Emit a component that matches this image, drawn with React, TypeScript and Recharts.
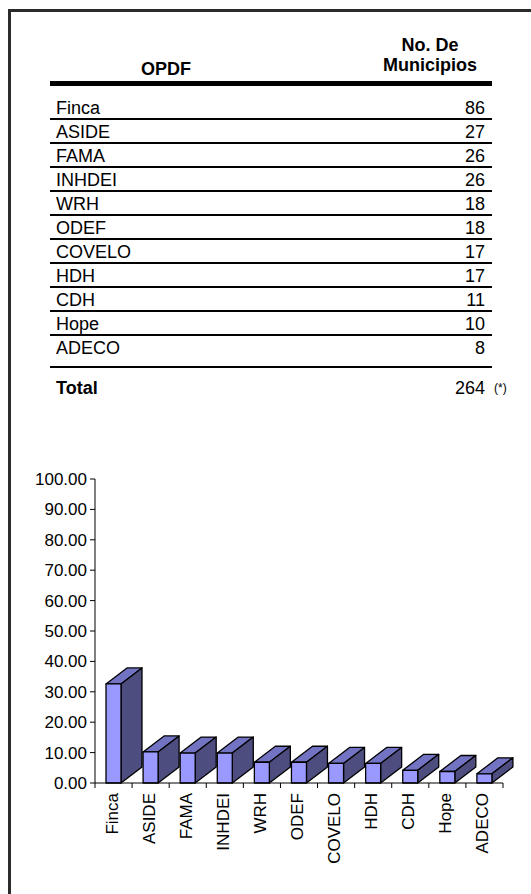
import React from 'react';
import { BarChart, Bar, XAxis, YAxis } from 'recharts';

// OPDF names and counts (table) + percent share (chart)
const categories = ['Finca', 'ASIDE', 'FAMA', 'INHDEI', 'WRH', 'ODEF', 'COVELO', 'HDH', 'CDH', 'Hope', 'ADECO'];
const municipios = [86, 27, 26, 26, 18, 18, 17, 17, 11, 10, 8];
const percentages = [32.58, 10.23, 9.85, 9.85, 6.82, 6.82, 6.44, 6.44, 4.17, 3.79, 3.03];
const totalMunicipios = 264;
const yTicks = [0, 10, 20, 30, 40, 50, 60, 70, 80, 90, 100];

const FONT = '"Liberation Sans", Arial, sans-serif';
const PLOT_LEFT = 95;
const PLOT_RIGHT = 503;
const BAND = (PLOT_RIGHT - PLOT_LEFT) / categories.length;
const DX = 21;
const DY = 16;

const chartData = categories.map((name, i) => ({ name, pct: percentages[i] }));

const Box3D = (props: any) => {
  const { x, y, width, height } = props;
  const x2 = x + width;
  const yb = y + height;
  return (
    <g stroke="#000" strokeWidth={1.3} strokeLinejoin="round">
      <polygon points={`${x},${y} ${x + DX},${y - DY} ${x2 + DX},${y - DY} ${x2},${y}`} fill="#7373c4" />
      <polygon points={`${x2},${y} ${x2 + DX},${y - DY} ${x2 + DX},${yb - DY} ${x2},${yb}`} fill="#4d4d80" />
      <rect x={x} y={y} width={width} height={height} fill="#9999ff" />
    </g>
  );
};

const XTick = (props: any) => {
  const { x, y, payload, index } = props;
  const left = x - BAND / 2;
  return (
    <g>
      <line x1={left} x2={left} y1={y} y2={y + 5} stroke="#000" />
      {index === categories.length - 1 && (
        <line x1={x + BAND / 2} x2={x + BAND / 2} y1={y} y2={y + 5} stroke="#000" />
      )}
      <text
        x={x + 4}
        y={y + 10}
        transform={`rotate(-90, ${x + 4}, ${y + 10})`}
        textAnchor="end"
        fontSize={17}
        fontFamily={FONT}
        fill="#000"
      >
        {payload.value}
      </text>
    </g>
  );
};

const line = (top: number, h = 2) => (
  <div key={`l${top}`} style={{ position: 'absolute', left: 50, width: 442, top, height: h, background: '#000' }} />
);

export default function App() {
  return (
    <div style={{ position: 'absolute', left: 0, top: 0, width: 531, height: 894, background: '#fff', fontFamily: FONT, color: '#000', overflow: 'hidden' }}>
      {/* frame */}
      <div style={{ position: 'absolute', left: 8, top: 9, width: 523, height: 3, background: '#2b2b2b' }} />
      <div style={{ position: 'absolute', left: 8, top: 9, width: 3, height: 885, background: '#2b2b2b' }} />

      <div style={{ position: 'absolute', left: 0, top: 0 }}>
        <BarChart width={531} height={894} data={chartData} margin={{ top: 479, right: 28, bottom: 0, left: 0 }}>
          <YAxis
            width={95}
            domain={[0, 100]}
            ticks={yTicks}
            interval={0}
            tickFormatter={(v: number) => v.toFixed(2)}
            axisLine={{ stroke: '#000' }}
            tickLine={{ stroke: '#000' }}
            tickSize={5}
            tickMargin={3}
            tick={{ fill: '#000', fontSize: 17, fontFamily: FONT }}
          />
          <XAxis
            dataKey="name"
            height={111}
            interval={0}
            tickLine={false}
            tickSize={0}
            tickMargin={0}
            axisLine={{ stroke: '#000' }}
            tick={<XTick />}
          />
          <Bar dataKey="pct" barSize={15} shape={<Box3D />} isAnimationActive={false} />
        </BarChart>
      </div>

      {/* table header */}
      <div style={{ position: 'absolute', left: 50, width: 232, top: 56, height: 26, lineHeight: '26px', textAlign: 'center', fontWeight: 'bold', fontSize: 18 }}>OPDF</div>
      <div style={{ position: 'absolute', left: 368, width: 124, top: 35, lineHeight: '20px', textAlign: 'center', fontWeight: 'bold', fontSize: 18 }}>
        No. De<br />Municipios
      </div>
      {line(81, 5)}

      {categories.map((name, i) => (
        <React.Fragment key={name}>
          <div style={{ position: 'absolute', left: 56, top: 96 + 24 * i, height: 24, lineHeight: '24px', fontSize: 18 }}>{name}</div>
          <div style={{ position: 'absolute', right: 531 - 485, top: 96 + 24 * i, height: 24, lineHeight: '24px', fontSize: 18, textAlign: 'right' }}>{municipios[i]}</div>
          {i < categories.length - 1 && line(118 + 24 * i)}
        </React.Fragment>
      ))}
      {line(366)}

      <div style={{ position: 'absolute', left: 56, top: 376, height: 24, lineHeight: '24px', fontSize: 18, fontWeight: 'bold' }}>Total</div>
      <div style={{ position: 'absolute', right: 531 - 485, top: 376, height: 24, lineHeight: '24px', fontSize: 18 }}>{totalMunicipios}</div>
      <div style={{ position: 'absolute', left: 494, top: 376, height: 24, lineHeight: '24px', fontSize: 12 }}>(*)</div>
    </div>
  );
}
